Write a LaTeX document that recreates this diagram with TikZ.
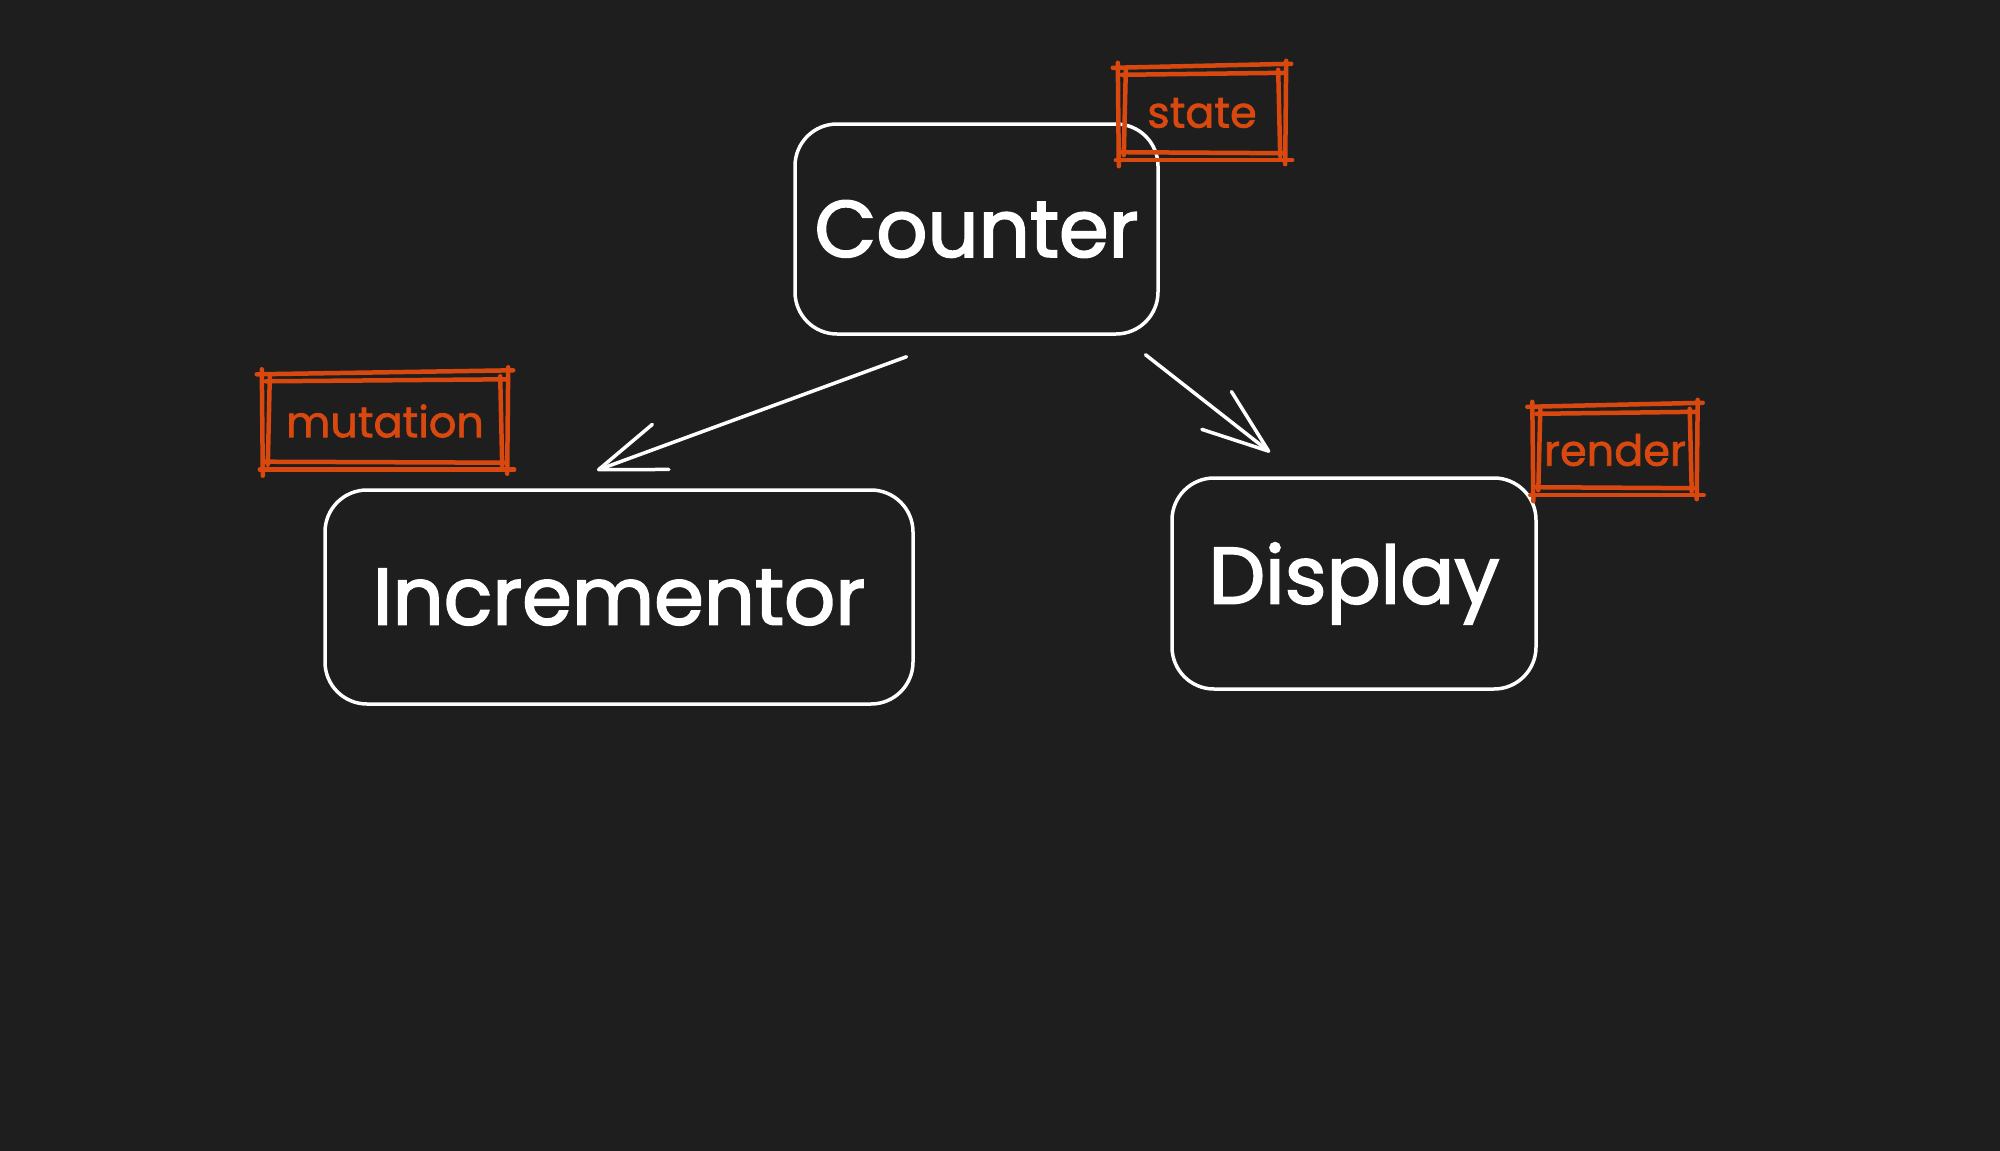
\documentclass[tikz,border=0pt]{standalone}
\usepackage{fontspec}
\setmainfont{Poppins}
\newfontfamily\handfont{Poppins}[FakeBold=2.2]
\newfontfamily\handlbl{Poppins}[FakeBold=1.6]
\usetikzlibrary{arrows.meta}
\definecolor{bg}{HTML}{1E1E1E}
\definecolor{orng}{HTML}{D9480F}
\newcommand{\sketchbox}[1]{%
 \draw[sk] ([shift={(-5,1)}]#1.north west) -- ([shift={(5,-3)}]#1.north east);
 \draw[sk] ([shift={(4,8)}]#1.north west) -- ([shift={(-2,6)}]#1.north east);
 \draw[sk] ([shift={(-2,1)}]#1.south west) -- ([shift={(6,1)}]#1.south east);
 \draw[sk] ([shift={(3,-7)}]#1.south west) -- ([shift={(-4,-6)}]#1.south east);
 \draw[sk] ([shift={(0,-4)}]#1.north west) -- ([shift={(1,7)}]#1.south west);
 \draw[sk] ([shift={(8,3)}]#1.north west) -- ([shift={(6,-4)}]#1.south west);
 \draw[sk] ([shift={(0,-6)}]#1.north east) -- ([shift={(-1,5)}]#1.south east);
 \draw[sk] ([shift={(-8,3)}]#1.north east) -- ([shift={(-6,-3)}]#1.south east);
}
\begin{document}
\begin{tikzpicture}[x=1pt,y=-1pt,
  mainbox/.style={draw=white,line width=3.5pt,rounded corners=42pt,text=white,
    font=\handfont\fontsize{80}{90}\selectfont,inner sep=0pt},
  lbl/.style={text=orng,font=\handlbl\fontsize{43}{50}\selectfont,inner sep=0pt},
  sk/.style={draw=orng,line width=4.5pt,line cap=round},
  arr/.style={draw=white,line width=3.5pt,line cap=round,
    -{Straight Barb[length=66pt,width=48pt,line width=3.5pt,round]}}]
\fill[bg] (0,0) rectangle (2000,1151);
\useasboundingbox (0,0) rectangle (2000,1151);

\node[mainbox,minimum width=363pt,minimum height=210pt] (counter) at (976.5,229) {Counter};
\node[mainbox,minimum width=588pt,minimum height=214pt] (incr) at (619,597) {Incrementor};
\node[mainbox,minimum width=364pt,minimum height=211pt] (disp) at (1354,583.5) {Display};

\node[lbl,minimum width=168pt,minimum height=92pt] (state) at (1202,113) {state};
\node[lbl,minimum width=246pt,minimum height=95pt] (mut) at (385,421) {mutation};
\node[lbl,minimum width=165pt,minimum height=88pt] (render) at (1615,450) {render};
\sketchbox{state}
\sketchbox{mut}
\sketchbox{render}

\draw[arr] ([shift={(-70,21)}]counter.south) -- ([shift={(-22,-18)}]incr.north);
\draw[arr] ([shift={(169,19)}]counter.south) -- ([shift={(-84,-24)}]disp.north);
\end{tikzpicture}
\end{document}
